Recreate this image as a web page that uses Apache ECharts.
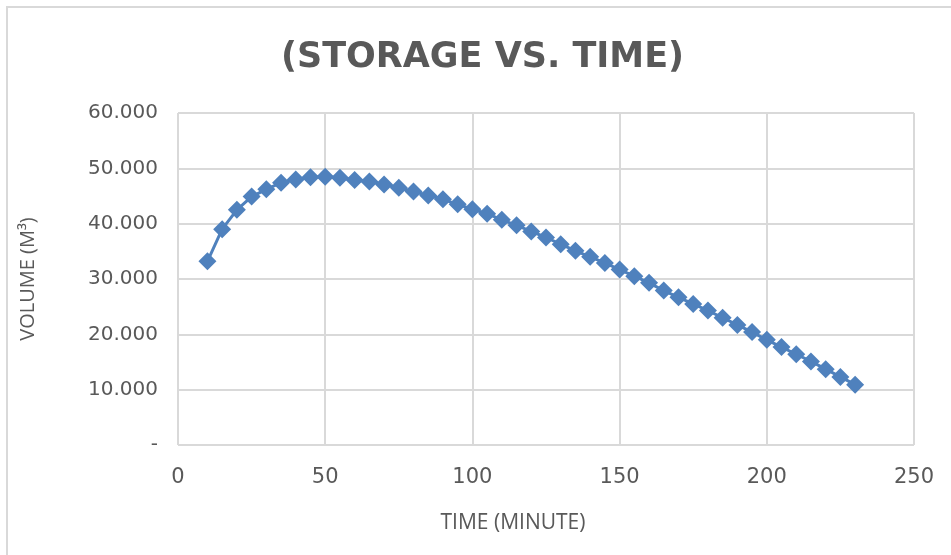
<!DOCTYPE html>
<html>
<head>
<meta charset="utf-8">
<script src="https://cdn.jsdelivr.net/npm/echarts@6/dist/echarts.min.js"></script>
<style>
  html, body { margin: 0; padding: 0; background: #fff; }
  #myChart { width: 951px; height: 555px; }
  #frame {
    position: absolute; left: 6px; top: 6px; width: 960px; height: 560px;
    border-left: 2px solid #d9d9d9; border-top: 2px solid #d9d9d9;
    pointer-events: none;
  }
</style>
</head>
<body>
<div id="myChart"></div>
<div id="frame"></div>
<script>
// time (minute) and storage volume (m3)
var timeData = [10, 15, 20, 25, 30, 35, 40, 45, 50, 55, 60, 65, 70, 75, 80, 85, 90, 95, 100,
  105, 110, 115, 120, 125, 130, 135, 140, 145, 150, 155, 160, 165, 170, 175, 180, 185, 190,
  195, 200, 205, 210, 215, 220, 225, 230];
var volumeData = [33.2, 39.0, 42.5, 44.9, 46.2, 47.4, 48.0, 48.4, 48.5, 48.3, 47.9, 47.6, 47.1,
  46.5, 45.8, 45.1, 44.4, 43.5, 42.6, 41.8, 40.7, 39.7, 38.6, 37.5, 36.3, 35.1, 34.0, 32.9,
  31.7, 30.5, 29.3, 27.9, 26.7, 25.5, 24.3, 23.0, 21.7, 20.4, 19.0, 17.7, 16.4, 15.1, 13.7,
  12.3, 10.9];

var points = [];
for (var i = 0; i < timeData.length; i++) {
  points.push([timeData[i], volumeData[i]]);
}

var textColor = "#595959";
var gridColor = "#d9d9d9";

var myChart = echarts.init(document.getElementById("myChart"));
myChart.setOption({
  animation: false,
  title: {
    text: "(STORAGE VS. TIME)",
    left: 276,
    top: 35,
    textStyle: {
      fontFamily: "DejaVu Sans",
      fontWeight: "bold",
      fontSize: 35,
      color: textColor
    }
  },
  grid: {
    left: 178,
    right: 37,
    top: 113,
    bottom: 110
  },
  xAxis: {
    type: "value",
    min: 0,
    max: 250,
    interval: 50,
    name: "TIME (MINUTE)",
    nameLocation: "middle",
    nameGap: 68,
    nameTextStyle: {
      fontFamily: "Open Sans",
      fontSize: 21,
      color: textColor,
      padding: [0, 66, 0, 0]
    },
    axisLine: { show: false },
    axisTick: { show: false },
    axisLabel: { margin: 22, fontFamily: "DejaVu Sans", fontSize: 21, color: textColor },
    splitLine: { lineStyle: { color: gridColor, width: 2 } }
  },
  yAxis: {
    type: "value",
    min: 0,
    max: 60,
    interval: 10,
    name: "VOLUME (M³)",
    nameLocation: "middle",
    nameGap: 140,
    nameTextStyle: { fontFamily: "Open Sans", fontSize: 20, color: textColor },
    axisLine: { show: false },
    axisTick: { show: false },
    axisLabel: {
      margin: 20,
      fontFamily: "DejaVu Sans",
      fontSize: 20,
      color: textColor,
      formatter: function (v) {
        return v === 0 ? "-" : v.toFixed(3);
      }
    },
    splitLine: { lineStyle: { color: gridColor, width: 2 } }
  },
  series: [
    {
      type: "line",
      data: points,
      symbol: "diamond",
      symbolSize: 18,
      showAllSymbol: true,
      lineStyle: { color: "#4f81bd", width: 3 },
      itemStyle: { color: "#4f81bd" }
    }
  ]
});
</script>
</body>
</html>
